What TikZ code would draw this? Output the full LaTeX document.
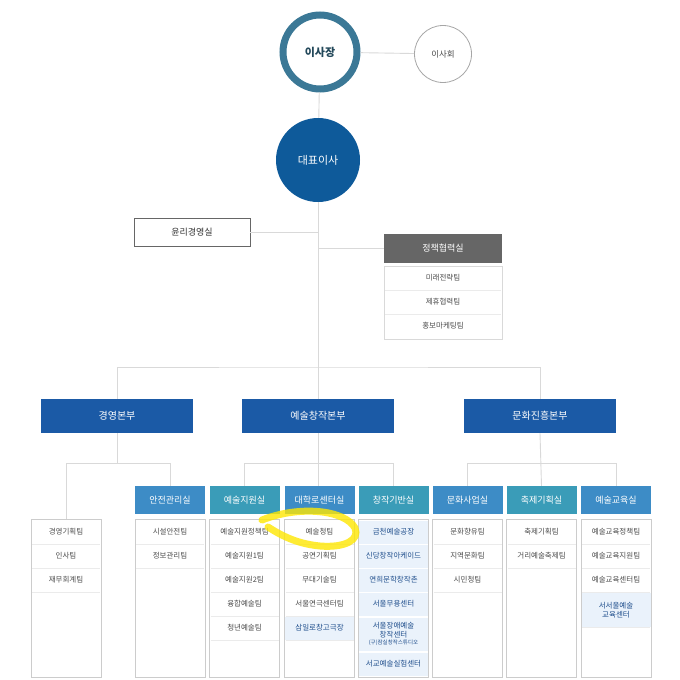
\documentclass[tikz,border=0pt]{standalone}
\usepackage{fontspec}
\setmainfont{Noto Sans CJK KR}
\begin{document}
\begin{tikzpicture}[x=1pt,y=-1pt,
  conn/.style={draw=black!15,line width=0.9pt},
  bonbu/.style={fill=hq,text=white,minimum width=152pt,minimum height=34pt,font=\fontsize{10}{12}\selectfont},
  sil/.style={text=white,minimum width=70pt,minimum height=28pt,font=\fontsize{9}{11}\selectfont,inner sep=0pt},
  colbox/.style={draw=black!20,line width=0.6pt,minimum width=70pt,minimum height=158pt,inner sep=0pt},
  team/.style={text=black!70,minimum width=69pt,minimum height=23pt,inner sep=0pt,font=\fontsize{7.5}{9}\selectfont,align=center},
  hteam/.style={team,fill=lb,text=tb},
  sep/.style={draw=black!8,line width=0.6pt}]
\definecolor{hq}{HTML}{1B5AA6}
\definecolor{blu}{HTML}{3D8CC6}
\definecolor{tea}{HTML}{3A9CB8}
\definecolor{lb}{HTML}{EAF2FB}
\definecolor{tb}{HTML}{1F4E8C}
\definecolor{ceo}{HTML}{0E5A9A}
\definecolor{ring}{HTML}{3B7896}
\useasboundingbox[fill=white] (0,0) rectangle (680,680);
% top
\node[circle,draw=ring,line width=7pt,minimum size=74pt,inner sep=0pt,text=ring!60!black,font=\bfseries\fontsize{11}{13}\selectfont] (chair) at (320,52) {이사장};
\node[circle,draw=black!35,line width=0.8pt,minimum size=57pt,inner sep=0pt,text=black!70,font=\fontsize{8.5}{10}\selectfont] (board) at (443,54) {이사회};
\node[circle,fill=ceo,minimum size=84pt,inner sep=0pt,text=white,font=\fontsize{11}{13}\selectfont] (ceo) at (318,160) {대표이사};
\draw[conn] (chair) -- (board);
\draw[conn] (chair) -- (ceo);
\coordinate (spine) at (318,540);
\node[draw=black!60,line width=0.8pt,minimum width=116pt,minimum height=28pt,inner sep=0pt,text=black!80,font=\fontsize{9}{11}\selectfont] (ethic) at (192,232) {윤리경영실};
\node[fill=black!60,minimum width=118pt,minimum height=29pt,inner sep=0pt,text=white,font=\fontsize{9}{11}\selectfont] (policy) at (443,248) {정책협력실};
\node[draw=black!15,minimum width=118pt,minimum height=73pt,inner sep=0pt] (pteam) at (443,302.5) {};
\node[team,minimum width=116pt] (p1) at (443,278) {미래전략팀};
\node[team,minimum width=116pt] (p2) at (443,302) {제휴협력팀};
\node[team,minimum width=116pt] (p3) at (443,326) {홍보마케팅팀};
\draw[sep] (385,290) -- (501,290) (385,314) -- (501,314);
\draw[conn] (ceo) -- (318,486);
\draw[conn] (ethic.east) -- (318,232);
\draw[conn] (318,248) -- (policy.west);
% bonbu
\node[bonbu] (b1) at (117,416) {경영본부};
\node[bonbu] (b2) at (318,416) {예술창작본부};
\node[bonbu] (b3) at (540,416) {문화진흥본부};
\draw[conn] (b1.north) |- (318,367) -| (b3.north);
% sil
\node[sil,fill=blu] (s1) at (170,500) {안전관리실};
\node[sil,fill=tea] (s2) at (244.5,500) {예술지원실};
\node[sil,fill=blu] (s3) at (319.5,500) {대학로센터실};
\node[sil,fill=tea] (s4) at (393.5,500) {창작기반실};
\node[sil,fill=blu] (s5) at (467.5,500) {문화사업실};
\node[sil,fill=tea] (s6) at (541.5,500) {축제기획실};
\node[sil,fill=blu] (s7) at (616,500) {예술교육실};
% columns
\node[colbox] (c0) at (66,598) {};
\node[colbox] (c1) at (170,598) {};
\node[colbox] (c2) at (244.5,598) {};
\node[colbox] (c3) at (319.5,598) {};
\node[colbox] (c4) at (393.5,598) {};
\node[colbox] (c5) at (467.5,598) {};
\node[colbox] (c6) at (541.5,598) {};
\node[colbox] (c7) at (616,598) {};
% connectors
\draw[conn] (b1.south) -- (117,463);
\draw[conn] (c0.north) |- (s1.north |- 0,463) -- (s1.north);
\draw[conn] (b2.south) -- (318,463);
\draw[conn] (s2.north) |- (s4.north |- 0,463) -- (s4.north);
\draw[conn] (b3.south) -- (s6.north);
\draw[conn] (s5.north) |- (s7.north |- 0,463) -- (s7.north);
% teams
\foreach \x/\c in {66/c0,170/c1,244.5/c2,319.5/c3,467.5/c5,541.5/c6,616/c7}{}
\node[team] (t01) at (66,532) {경영기획팀};
\node[team] (t02) at (66,556) {인사팀};
\node[team] (t03) at (66,580) {재무회계팀};
\draw[sep] (32,544) -- (100,544) (32,568) -- (100,568) (32,592) -- (100,592);
\node[team] (t11) at (170,532) {시설안전팀};
\node[team] (t12) at (170,556) {정보관리팀};
\draw[sep] (136,544) -- (204,544) (136,568) -- (204,568);
\node[team] (t21) at (244.5,532) {예술지원정책팀};
\node[team] (t22) at (244.5,556) {예술지원1팀};
\node[team] (t23) at (244.5,580) {예술지원2팀};
\node[team] (t24) at (244.5,604) {융합예술팀};
\node[team] (t25) at (244.5,628) {청년예술팀};
\foreach \y in {544,568,592,616,640} \draw[sep] (210.5,\y) -- (278.5,\y);
\node[team] (t31) at (319.5,532) {예술청팀};
\node[team] (t32) at (319.5,556) {공연기획팀};
\node[team] (t33) at (319.5,580) {무대기술팀};
\node[team] (t34) at (319.5,604) {서울연극센터팀};
\node[hteam] (t35) at (319.5,628) {삼일로창고극장};
\foreach \y in {544,568,592,616,640} \draw[sep] (285.5,\y) -- (353.5,\y);
\node[hteam] (t41) at (393.5,532) {금천예술공장};
\node[hteam] (t42) at (393.5,556) {신당창작아케이드};
\node[hteam] (t43) at (393.5,580) {연희문학창작촌};
\node[hteam] (t44) at (393.5,604) {서울무용센터};
\node[hteam,minimum height=33pt,font=\fontsize{7.5}{8.5}\selectfont] (t45) at (393.5,634) {서울장애예술\\창작센터\\[-1pt]{\fontsize{5.5}{6}\selectfont (구)잠실창작스튜디오}};
\node[hteam] (t46) at (393.5,664) {서교예술실험센터};
\foreach \y in {544,568,592,616,651} \draw[draw=white,line width=1pt] (359.5,\y) -- (427.5,\y);
\node[team] (t51) at (467.5,532) {문화향유팀};
\node[team] (t52) at (467.5,556) {지역문화팀};
\node[team] (t53) at (467.5,580) {시민청팀};
\draw[sep] (433.5,544) -- (501.5,544) (433.5,568) -- (501.5,568) (433.5,592) -- (501.5,592);
\node[team] (t61) at (541.5,532) {축제기획팀};
\node[team] (t62) at (541.5,556) {거리예술축제팀};
\draw[sep] (507.5,544) -- (575.5,544) (507.5,568) -- (575.5,568);
\node[team] (t71) at (616,532) {예술교육정책팀};
\node[team] (t72) at (616,556) {예술교육지원팀};
\node[team] (t73) at (616,580) {예술교육센터팀};
\node[hteam,minimum height=34pt,font=\fontsize{7.5}{9}\selectfont] (t74) at (616,610) {서서울예술\\교육센터};
\draw[sep] (582,544) -- (650,544) (582,568) -- (650,568) (582,592) -- (650,592) (582,627) -- (650,627);
% highlight
\draw[yellow!90!orange,opacity=0.8,line width=7pt,line cap=round]
  (262,520) .. controls (300,505) and (345,510) .. (355,528)
  .. controls (360,540) and (345,548) .. (320,546)
  .. controls (300,544) and (285,538) .. (268,527);
\end{tikzpicture}
\end{document}
